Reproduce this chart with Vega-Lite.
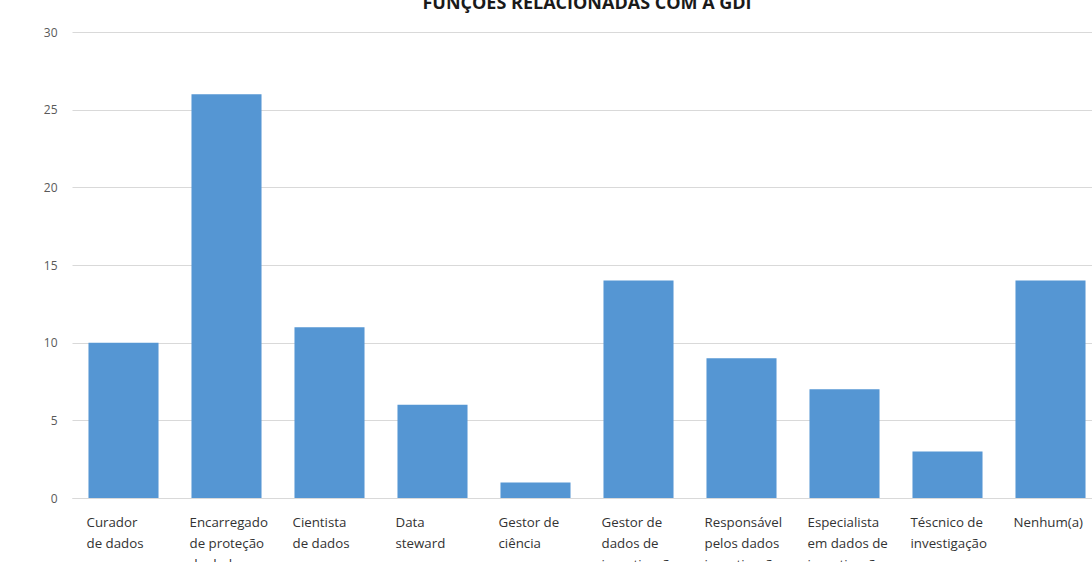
{
  "$schema": "https://vega.github.io/schema/vega-lite/v6.json",
  "width": 1030,
  "height": 466,
  "autosize": {"type": "none"},
  "padding": {"left": 72, "top": 32, "right": 0, "bottom": 64},
  "background": "white",
  "title": {
    "text": "FUNÇÕES RELACIONADAS COM A GDI",
    "font": "Open Sans",
    "fontSize": 18,
    "fontWeight": "bold",
    "color": "#1a1a1a",
    "anchor": "middle",
    "offset": 13
  },
  "data": {
    "values": [
      {"funcao": "Curador|de dados", "n": 10},
      {"funcao": "Encarregado|de proteção|de dados", "n": 26},
      {"funcao": "Cientista|de dados", "n": 11},
      {"funcao": "Data|steward", "n": 6},
      {"funcao": "Gestor de|ciência", "n": 1},
      {"funcao": "Gestor de|dados de|investigação", "n": 14},
      {"funcao": "Responsável|pelos dados|investigação", "n": 9},
      {"funcao": "Especialista|em dados de|investigação", "n": 7},
      {"funcao": "Téscnico de|investigação", "n": 3},
      {"funcao": "Nenhum(a)", "n": 14}
    ]
  },
  "mark": {"type": "bar", "color": "#5596D3"},
  "encoding": {
    "x": {
      "field": "funcao",
      "type": "nominal",
      "sort": null,
      "scale": {"paddingInner": 0.32, "paddingOuter": 0.16},
      "axis": {
        "title": null,
        "labelAngle": 0,
        "labelExpr": "split(datum.label, '|')",
        "labelAlign": "left",
        "labelBaseline": "top",
        "labelOffset": -37,
        "labelPadding": 17,
        "labelLineHeight": 21,
        "labelFont": "Open Sans",
        "labelFontSize": 13.3,
        "labelColor": "#333333",
        "ticks": false,
        "domainColor": "#d9d9d9",
        "labelLimit": 200
      }
    },
    "y": {
      "field": "n",
      "type": "quantitative",
      "scale": {"domain": [0, 30]},
      "axis": {
        "title": null,
        "values": [0, 5, 10, 15, 20, 25, 30],
        "domain": false,
        "ticks": false,
        "labelPadding": 15,
        "labelFont": "Open Sans",
        "labelFontSize": 12,
        "labelColor": "#595959",
        "gridColor": "#d9d9d9"
      }
    }
  },
  "config": {"view": {"stroke": null}}
}
